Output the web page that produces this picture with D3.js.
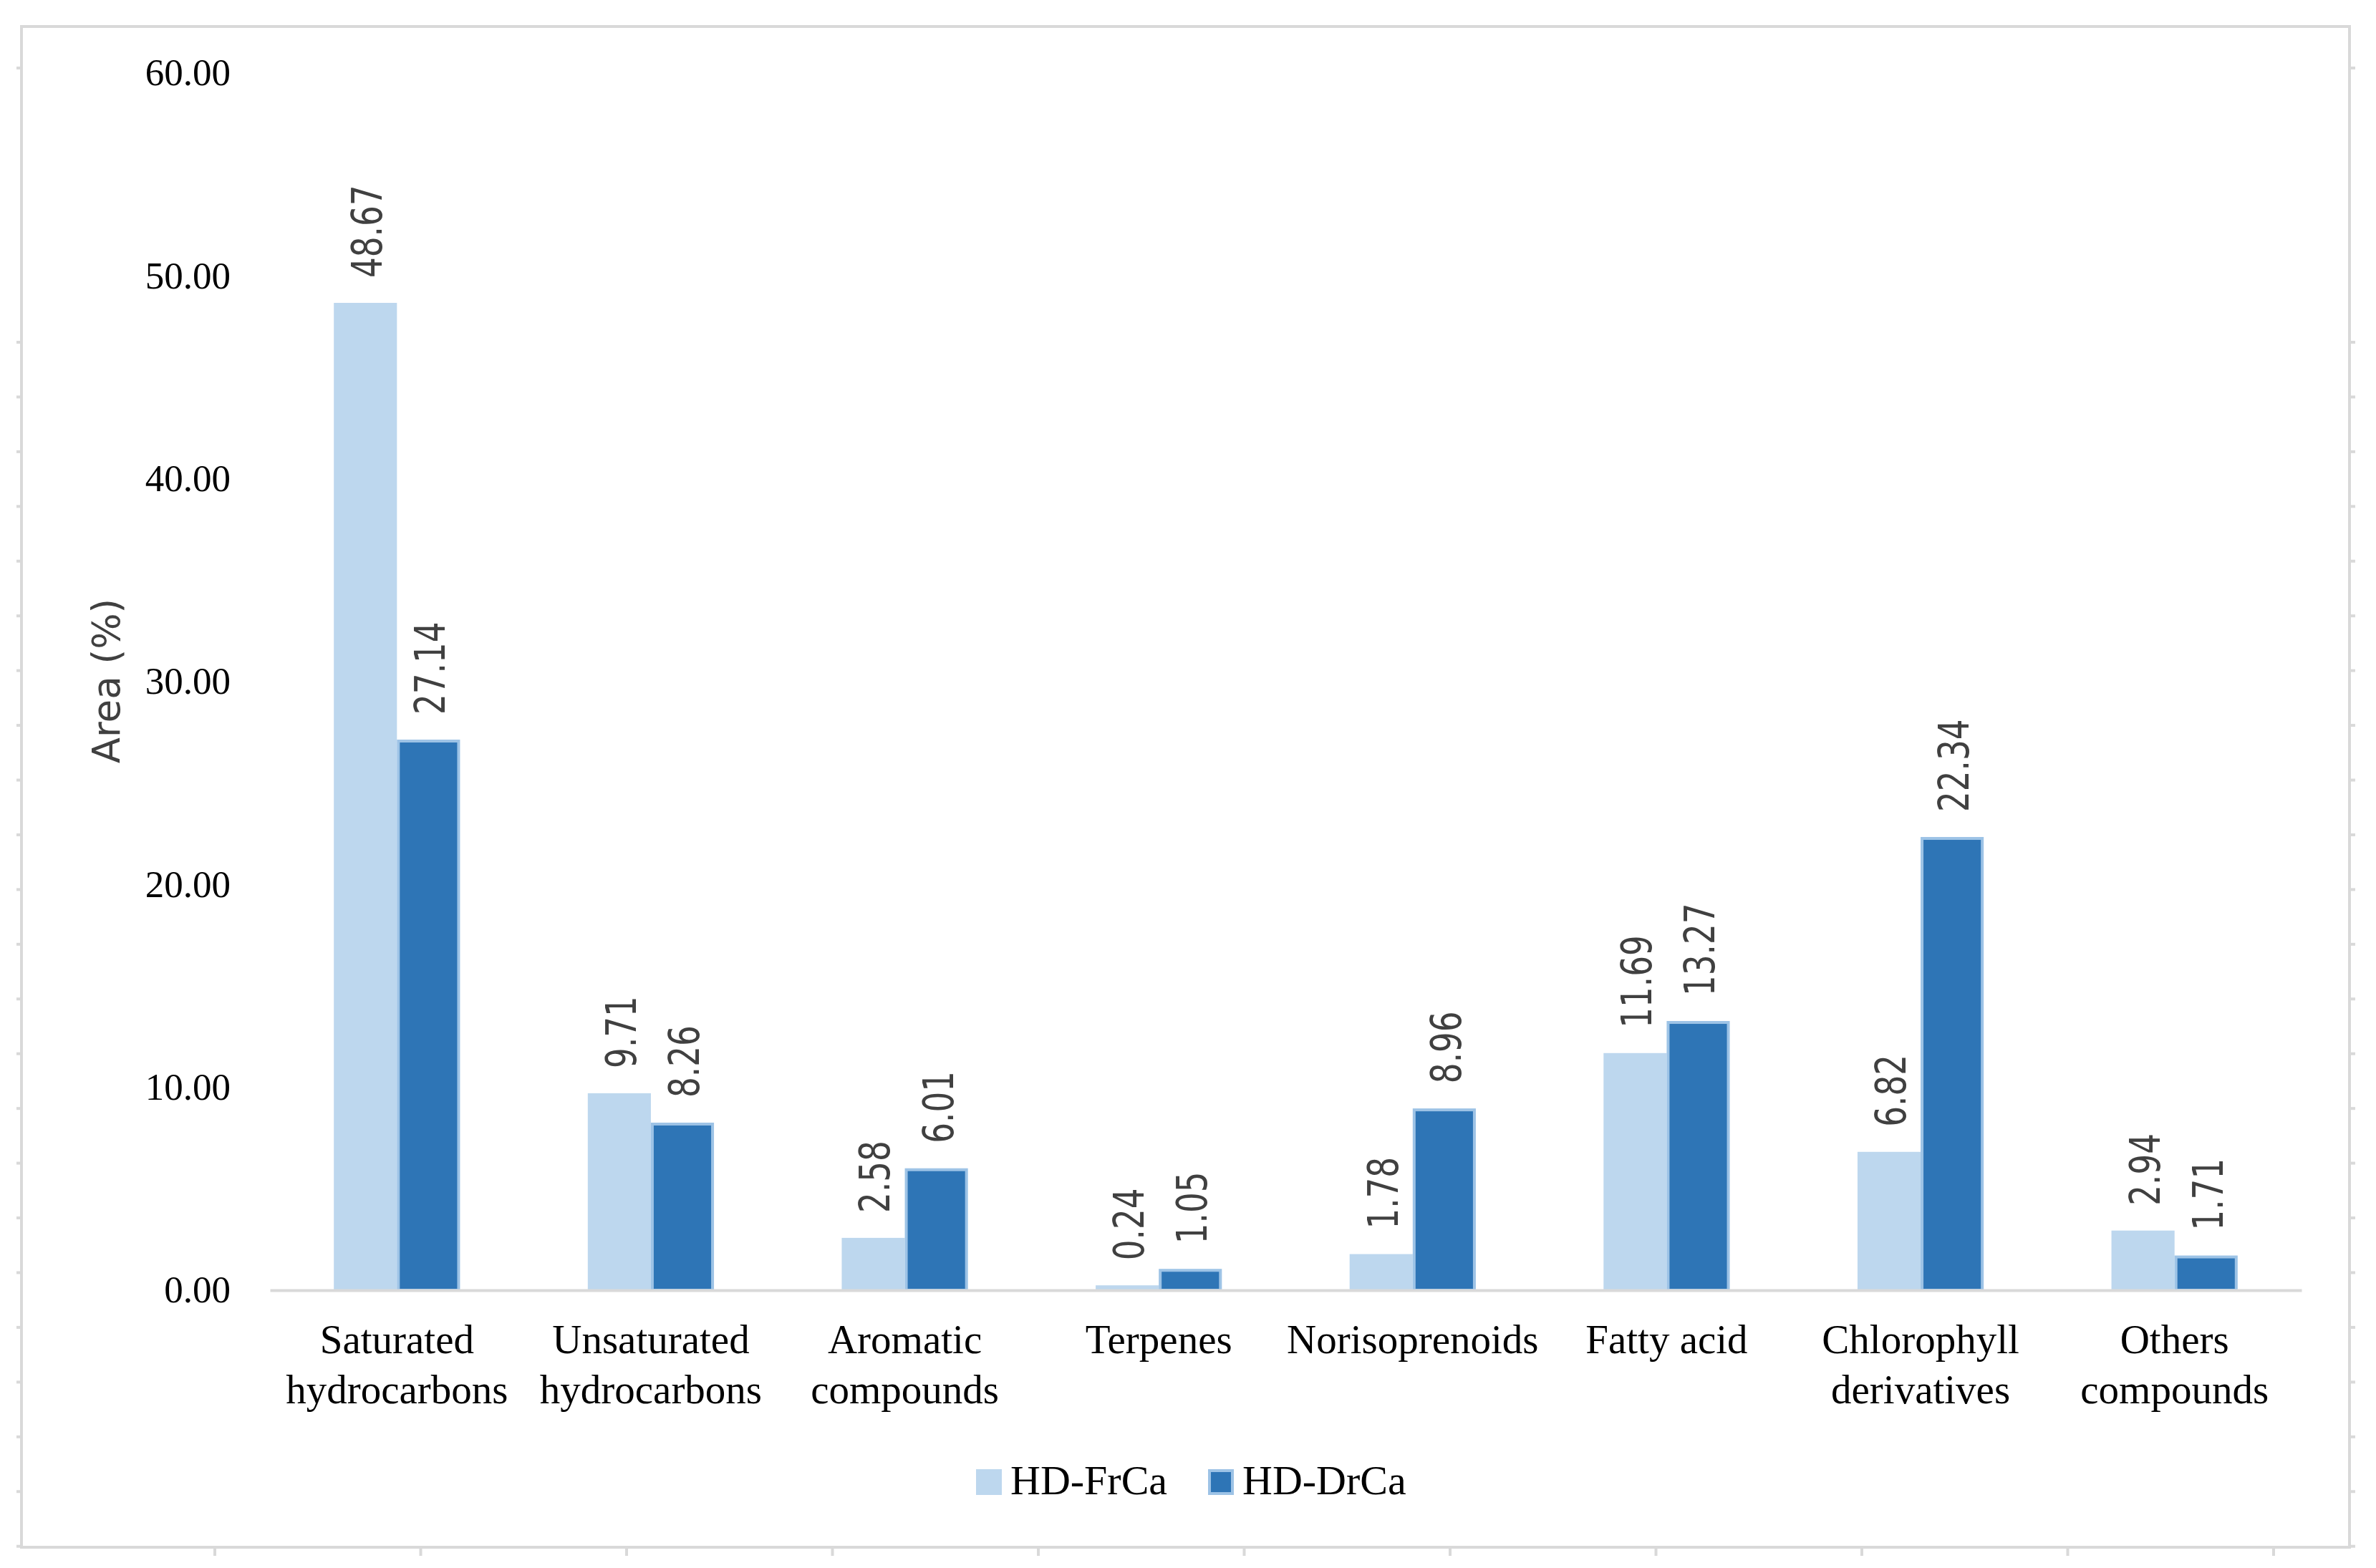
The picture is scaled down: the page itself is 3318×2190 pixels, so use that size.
<!DOCTYPE html>
<html>
<head>
<meta charset="utf-8">
<script src="https://cdn.jsdelivr.net/npm/d3@7"></script>
<style>
  body { margin: 0; background: #fff; }
  svg { display: block; }
</style>
</head>
<body>
<svg id="chart" width="3318" height="2190"></svg>
<script>
// data
const categories = [
  ["Saturated", "hydrocarbons"],
  ["Unsaturated", "hydrocarbons"],
  ["Aromatic", "compounds"],
  ["Terpenes"],
  ["Norisoprenoids"],
  ["Fatty acid"],
  ["Chlorophyll", "derivatives"],
  ["Others", "compounds"]
];
const seriesNames = ["HD-FrCa", "HD-DrCa"];
const frCa = [48.67, 9.71, 2.58, 0.24, 1.78, 11.69, 6.82, 2.94];
const drCa = [27.14, 8.26, 6.01, 1.05, 8.96, 13.27, 22.34, 1.71];
const yTicks = [0, 10, 20, 30, 40, 50, 60];

const colors = ["#bdd7ee", "#2e75b6"];
const grey = "#d9d9d9";

const svg = d3.select("#chart");
const W = 3318, H = 2190;
const plot = {left: 377, right: 3214, top: 102, bottom: 1802};

// outer frame with its little ruler ticks
svg.append("rect")
  .attr("x", 30).attr("y", 37)
  .attr("width", 3281 - 30).attr("height", 2161 - 37)
  .attr("fill", "#fff").attr("stroke", grey).attr("stroke-width", 4);

const sideTicks = [95].concat(d3.range(0, 23).map(i => 478 + i * 76.44));
svg.append("g").selectAll("line.l").data(sideTicks).join("line")
  .attr("x1", 23).attr("x2", 30).attr("y1", d => d).attr("y2", d => d)
  .attr("stroke", grey).attr("stroke-width", 4);
svg.append("g").selectAll("line.r").data(sideTicks).join("line")
  .attr("x1", 3281).attr("x2", 3289).attr("y1", d => d).attr("y2", d => d)
  .attr("stroke", grey).attr("stroke-width", 4);
svg.append("g").selectAll("line.b").data(d3.range(0, 11).map(i => 300 + i * 287.5)).join("line")
  .attr("x1", d => d).attr("x2", d => d).attr("y1", 2161).attr("y2", 2173)
  .attr("stroke", grey).attr("stroke-width", 4);

// scales
const x = d3.scaleBand()
  .domain(d3.range(categories.length))
  .range([plot.left, plot.right])
  .paddingInner(0.503)
  .paddingOuter(0.2515);
const y = d3.scaleLinear().domain([0, 60]).range([plot.bottom, plot.top]);
const bw = x.bandwidth() / 2;

// y axis (labels only)
const yAxis = svg.append("g")
  .attr("transform", `translate(${plot.left},0)`)
  .call(d3.axisLeft(y).tickValues(yTicks).tickFormat(d3.format(".2f")).tickSize(0).tickPadding(55));
yAxis.select(".domain").remove();
yAxis.selectAll("text")
  .attr("font-family", "Liberation Serif, serif")
  .attr("font-size", 53)
  .attr("fill", "#000");

// y title
svg.append("text")
  .attr("transform", "translate(167,951) rotate(-90)")
  .attr("text-anchor", "middle")
  .attr("font-family", "DejaVu Sans, sans-serif")
  .attr("font-size", 53)
  .attr("fill", "#404040")
  .text("Area (%)");

// bars
const rows = categories.map((c, i) => ({i, vals: [frCa[i], drCa[i]]}));
const groups = svg.append("g").selectAll("g").data(rows).join("g")
  .attr("transform", d => `translate(${x(d.i)},0)`);

groups.append("rect")
  .attr("x", 0).attr("width", bw)
  .attr("y", d => y(d.vals[0])).attr("height", d => y(0) - y(d.vals[0]))
  .attr("fill", colors[0]);

groups.append("rect")
  .attr("x", bw + 2).attr("width", bw - 4)
  .attr("y", d => y(d.vals[1]) + 2).attr("height", d => Math.max(0, y(0) - y(d.vals[1]) - 2))
  .attr("fill", colors[1])
  .attr("stroke", "#9dc3e6").attr("stroke-width", 4);

// x axis
const xAxis = svg.append("g")
  .attr("transform", `translate(0,${plot.bottom})`)
  .call(d3.axisBottom(x).tickSize(0).tickFormat(""));
xAxis.select(".domain").attr("stroke", grey).attr("stroke-width", 4);
xAxis.selectAll(".tick text").remove();
xAxis.selectAll(".tick").each(function(d) {
  const t = d3.select(this).append("text")
    .attr("text-anchor", "middle")
    .attr("font-family", "Liberation Serif, serif")
    .attr("font-size", 57)
    .attr("fill", "#000");
  categories[d].forEach((line, k) => {
    t.append("tspan").attr("x", 0).attr("y", 88 + k * 70).text(line);
  });
});

// value labels, rotated
groups.each(function(d) {
  const g = d3.select(this);
  d.vals.forEach((v, s) => {
    const cx = bw * s + bw / 2 + 2;
    g.append("text")
      .attr("transform", `translate(${cx},${y(v) - 35}) rotate(-90) scale(0.78,1)`)
      .attr("dy", "0.36em")
      .attr("text-anchor", "start")
      .attr("font-family", "DejaVu Sans, sans-serif")
      .attr("font-size", 58)
      .attr("fill", "#404040")
      .text(v.toFixed(2));
  });
});

// legend
const legendX = [1363, 1687];
const legend = svg.append("g").selectAll("g").data(seriesNames).join("g")
  .attr("transform", (d, i) => `translate(${legendX[i]},2052)`);
legend.append("rect")
  .attr("x", (d, i) => i ? 2 : 0).attr("y", (d, i) => i ? 2 : 0)
  .attr("width", (d, i) => i ? 32 : 36).attr("height", (d, i) => i ? 32 : 36)
  .attr("fill", (d, i) => colors[i])
  .attr("stroke", (d, i) => i ? "#9dc3e6" : "none")
  .attr("stroke-width", 4);
legend.append("text")
  .attr("x", (d, i) => i ? 48 : 48)
  .attr("y", 35)
  .attr("font-family", "Liberation Serif, serif")
  .attr("font-size", 58)
  .attr("fill", "#000")
  .text(d => d);
</script>
</body>
</html>
